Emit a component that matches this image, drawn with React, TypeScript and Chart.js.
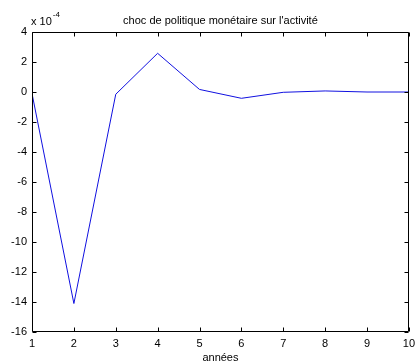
import React, { useEffect, useRef } from "react";
import { Chart, registerables } from "chart.js";

Chart.register(...registerables);

// Response of activity to a monetary policy shock (values in units of 1e-4)
const years = [1, 2, 3, 4, 5, 6, 7, 8, 9, 10];
const response = [-0.1, -14.1, -0.15, 2.58, 0.17, -0.42, -0.02, 0.07, 0.0, 0.0];
const yTicks = [4, 2, 0, -2, -4, -6, -8, -10, -12, -14, -16];
const xTicks = [1, 2, 3, 4, 5, 6, 7, 8, 9, 10];
const titleText = "choc de politique monétaire sur l'activité";
const xLabel = "années";

const FONT = '"Liberation Sans", Arial, sans-serif';

const matlabAxes = {
  id: "matlabAxes",
  afterDraw(chart: any) {
    const { ctx, chartArea, scales } = chart;
    const { left, right, top, bottom } = chartArea;
    const x = scales.x;
    const y = scales.y;
    const L = Math.round(left) + 0.5;
    const R = Math.round(right) - 0.5;
    const T = Math.round(top) + 0.5;
    const B = Math.round(bottom) - 0.5;
    ctx.save();
    ctx.strokeStyle = "#000";
    ctx.lineWidth = 1;
    ctx.beginPath();
    ctx.rect(L, T, R - L, B - T);
    const tl = 4;
    xTicks.forEach((v) => {
      const px = Math.round(x.getPixelForValue(v)) + 0.5;
      ctx.moveTo(px, B);
      ctx.lineTo(px, B - tl);
      ctx.moveTo(px, T);
      ctx.lineTo(px, T + tl);
    });
    yTicks.forEach((v) => {
      const py = Math.round(y.getPixelForValue(v)) + 0.5;
      ctx.moveTo(L, py);
      ctx.lineTo(L + tl, py);
      ctx.moveTo(R, py);
      ctx.lineTo(R - tl, py);
    });
    ctx.stroke();

    // title
    ctx.fillStyle = "#000";
    ctx.font = `11px ${FONT}`;
    ctx.textAlign = "center";
    ctx.textBaseline = "alphabetic";
    ctx.fillText(titleText, (left + right) / 2, top - 8);

    // exponent label
    ctx.textAlign = "left";
    ctx.fillText("x 10", left - 1, top - 7);
    const w = ctx.measureText("x 10").width;
    ctx.font = `8px ${FONT}`;
    ctx.fillText("-4", left - 1 + w + 1, top - 15);
    ctx.restore();
  },
};

export default function App() {
  const ref = useRef<HTMLCanvasElement>(null);
  useEffect(() => {
    if (!ref.current) return;
    const chart = new Chart(ref.current, {
      type: "line",
      data: {
        labels: years,
        datasets: [
          {
            data: years.map((yr, i) => ({ x: yr, y: response[i] })),
            borderColor: "#1010e0",
            borderWidth: 1,
            pointRadius: 0,
            tension: 0,
            fill: false,
          },
        ],
      },
      options: {
        animation: false,
        responsive: false,
        maintainAspectRatio: false,
        layout: { padding: { left: 0, right: 9, top: 32, bottom: 0 } },
        plugins: {
          legend: { display: false },
          title: { display: false },
          tooltip: { enabled: false },
        },
        scales: {
          x: {
            type: "linear",
            min: 1,
            max: 10,
            afterFit(scale: any) {
              scale.height = 30;
            },
            afterBuildTicks(scale: any) {
              scale.ticks = xTicks.map((v) => ({ value: v }));
            },
            grid: { display: false, drawTicks: false },
            border: { display: false },
            ticks: {
              padding: 5,
              color: "#000",
              font: { family: FONT, size: 11 },
              maxRotation: 0,
              autoSkip: false,
            },
            title: {
              display: true,
              text: xLabel,
              color: "#000",
              font: { family: FONT, size: 11 },
              padding: { top: 0, bottom: -3 },
            },
          },
          y: {
            type: "linear",
            min: -16,
            max: 4,
            afterFit(scale: any) {
              scale.width = 32;
            },
            afterBuildTicks(scale: any) {
              scale.ticks = yTicks.map((v) => ({ value: v }));
            },
            grid: { display: false, drawTicks: false },
            border: { display: false },
            ticks: {
              padding: 5,
              color: "#000",
              font: { family: FONT, size: 11 },
              autoSkip: false,
            },
          },
        },
      },
      plugins: [matlabAxes],
    });
    return () => chart.destroy();
  }, []);
  return (
    <div style={{ position: "absolute", left: 0, top: 0, width: 420, height: 362, background: "#fff" }}>
      <canvas ref={ref} width={420} height={362} />
    </div>
  );
}
